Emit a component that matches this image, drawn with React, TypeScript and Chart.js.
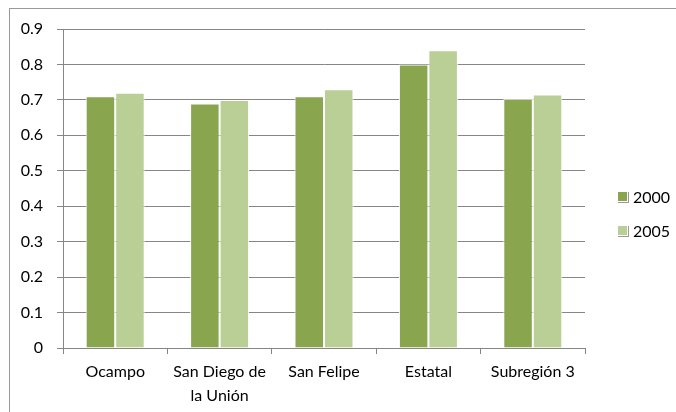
import React, { useEffect, useRef } from "react";
import { Chart, registerables } from "chart.js";

Chart.register(...registerables);

const categories: (string | string[])[] = ["Ocampo", ["San Diego de", "la Unión"], "San Felipe", "Estatal", "Subregión 3"];
const series2000 = [0.71, 0.69, 0.71, 0.8, 0.703];
const series2005 = [0.72, 0.7, 0.73, 0.84, 0.715];
const seriesLabels = ["2000", "2005"];
const colors = ["#89A54E", "#B9CF96"];

const FONT = "Lato, 'Noto Sans', sans-serif";

export default function App() {
  const ref = useRef<HTMLCanvasElement | null>(null);
  useEffect(() => {
    if (!ref.current) return;
    const chart = new Chart(ref.current, {
      type: "bar",
      data: {
        labels: categories as any,
        datasets: [
          { label: seriesLabels[0], data: series2000, backgroundColor: colors[0], borderColor: "#ffffff", borderWidth: 1, categoryPercentage: 0.565, barPercentage: 1 },
          { label: seriesLabels[1], data: series2005, backgroundColor: colors[1], borderColor: "#ffffff", borderWidth: 1, categoryPercentage: 0.565, barPercentage: 1 },
        ],
      },
      options: {
        animation: false,
        responsive: false,
        maintainAspectRatio: false,
        layout: { padding: { left: 0, top: 29, right: 91, bottom: 0 } },
        plugins: { legend: { display: false }, tooltip: { enabled: false } },
        scales: {
          x: {
            offset: true,
            grid: { display: true, drawOnChartArea: false, offset: true, tickLength: 6, color: "#868686" },
            border: { color: "#868686" },
            ticks: { color: "#000", padding: 6, maxRotation: 0, autoSkip: false, font: { family: FONT, size: 16, lineHeight: 1.5 } },
            afterFit: (s: any) => { s.height = 412 - 348; },
          },
          y: {
            min: 0,
            max: 0.9,
            ticks: {
              stepSize: 0.1,
              color: "#000",
              padding: 14,
              font: { family: FONT, size: 16 },
              callback: (v: any) => String(Number(Number(v).toFixed(1))),
            },
            grid: { color: "#868686", tickLength: 6 },
            border: { color: "#868686" },
            afterFit: (s: any) => { s.width = 63; },
          },
        },
      },
    });
    return () => chart.destroy();
  }, []);

  const legendItem = (i: number, top: number) => (
    <div key={i} style={{ position: "fixed", left: 617, top, height: 20, display: "flex", alignItems: "center", fontFamily: FONT, fontSize: 16, color: "#000" }}>
      <span style={{ display: "inline-block", width: 9, height: 9, background: colors[i], border: "1px solid #fff", boxShadow: "1px 1px 0 #9a9a9a", marginRight: 5 }} />
      <span>{seriesLabels[i]}</span>
    </div>
  );

  return (
    <div>
      <div style={{ position: "fixed", left: 9, top: 8, width: 700, height: 430, border: "1px solid #9a9a9a", background: "#fff" }} />
      <canvas ref={ref} width={676} height={412} style={{ position: "fixed", left: 0, top: 0, width: 676, height: 412 }} />
      {legendItem(0, 186)}
      {legendItem(1, 220)}
    </div>
  );
}
